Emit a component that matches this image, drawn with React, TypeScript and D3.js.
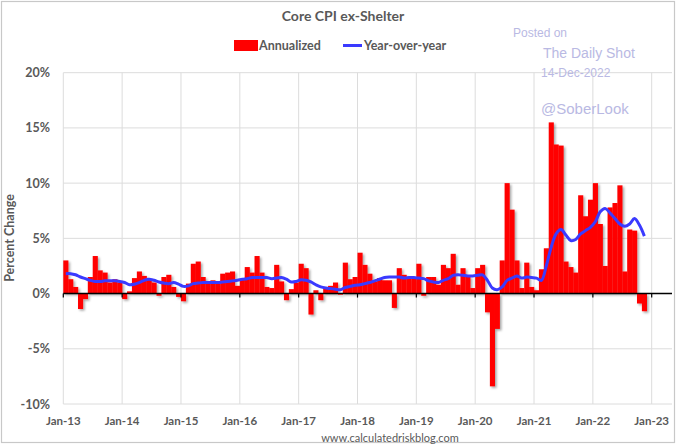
import React from "react";
import * as d3 from "d3";

// Monthly data, Jan-2013 .. Nov-2022
const startYear = 2013;
const yearTicks = ["Jan-13", "Jan-14", "Jan-15", "Jan-16", "Jan-17", "Jan-18", "Jan-19", "Jan-20", "Jan-21", "Jan-22", "Jan-23"];
const yTicks = [-10, -5, 0, 5, 10, 15, 20];

// Annualized monthly change (%)
const annualized = [
  3.0, 1.3, 0.6, -1.4, -0.5, 1.5, 3.4, 2.1, 1.9, 1.0, 1.3, 1.0,
  -0.5, 0.2, 1.4, 2.0, 1.6, 1.3, 1.0, -0.2, 1.5, 1.7, 0.6, -0.3,
  -0.7, 0.9, 2.7, 2.9, 1.5, 1.1, 1.2, 0.9, 1.8, 1.9, 2.0, 0.7,
  1.3, 2.4, 1.9, 3.4, 1.9, 0.6, 0.5, 2.6, 1.1, -0.6, 0.4, 1.0,
  2.7, 2.3, -1.9, 0.3, -0.6, 0.6, 0.7, 1.0, -0.1, 2.8, 1.3, 1.5,
  3.7, 2.6, 1.8, 1.1, 1.4, 1.2, 1.2, -1.3, 2.3, 1.7, 1.4, 1.4,
  2.7, -0.2, 1.5, 1.5, 0.8, 2.6, 2.3, 3.6, 0.8, 2.3, 1.6, 0.5,
  2.3, 2.6, -1.7, -8.4, -3.2, 3.0, 10.0, 7.6, 3.0, 0.5, 2.8, 0.6,
  0.3, 2.2, 4.1, 15.5, 13.5, 13.4, 2.9, 2.4, 1.9, 8.9, 7.0, 8.5,
  10.0, 6.3, 2.5, 7.8, 8.2, 9.8, 2.0, 5.8, 5.7, -0.9, -1.6,
];

// Year-over-year change (%)
const yearOverYear = [
  1.8, 1.8, 1.7, 1.5, 1.35, 1.2, 1.1, 1.1, 1.15, 1.15, 1.15, 1.1,
  1.0, 0.8, 0.85, 1.0, 1.2, 1.3, 1.2, 1.05, 0.95, 0.9, 1.0, 0.85,
  0.65, 0.7, 0.9, 0.95, 1.0, 1.0, 1.0, 1.0, 1.05, 1.1, 1.15, 1.2,
  1.3, 1.35, 1.45, 1.45, 1.45, 1.45, 1.35, 1.4, 1.45, 1.3, 1.05, 1.1,
  1.25, 1.2, 1.05, 0.8, 0.6, 0.5, 0.45, 0.4, 0.35, 0.55, 0.65, 0.75,
  0.8, 0.9, 1.0, 1.15, 1.3, 1.45, 1.5, 1.5, 1.5, 1.4, 1.45, 1.45,
  1.4, 1.35, 1.15, 1.05, 1.0, 1.2, 1.35, 1.65, 1.7, 1.65, 1.6, 1.6,
  1.65, 1.7, 1.2, 0.5, 0.35, 0.6, 1.2, 1.4, 1.6, 1.4, 1.5, 1.45,
  1.4, 1.2, 2.5, 4.2, 5.4, 5.8, 5.3, 4.8, 4.9, 5.4, 5.7, 6.0,
  6.5, 7.4, 7.7, 7.3, 6.8, 6.3, 6.1, 6.3, 6.8, 6.2, 5.2,
];

const W = 676;
const H = 446;
const FONT = "Lato, 'Open Sans', sans-serif";
const GREY = "#595959";

export default function App() {
  const x = d3.scaleLinear().domain([0, 120]).range([63.3, 651.7]);
  const y = d3.scaleLinear().domain([-10, 20]).range([404, 72.7]);
  const plotRight = 672;

  const line = d3
    .line<number>()
    .x((_, i) => x(i + 0.5))
    .y((d) => y(d))
    .curve(d3.curveCatmullRom.alpha(0.5));

  return (
    <svg
      width={W}
      height={H}
      style={{ position: "absolute", left: 0, top: 0, background: "#fff" }}
      fontFamily={FONT}
    >
      <defs>
        <filter id="shadow" x="-10%" y="-10%" width="130%" height="130%">
          <feDropShadow dx="1.6" dy="1.6" stdDeviation="1" floodColor="#000" floodOpacity="0.35" />
        </filter>
      </defs>
      <rect x={0} y={0} width={W} height={H} fill="#fff" />
      <rect x={1.5} y={1.5} width={W - 3} height={H - 5} fill="none" stroke="#c8c8c8" strokeWidth={1.2} />

      {/* title */}
      <text x={343} y={21} textAnchor="middle" fontSize={14} fontWeight={700} fill={GREY}>
        Core CPI ex-Shelter
      </text>

      {/* legend */}
      <rect x={234} y={40} width={24} height={11} fill="#ff0000" />
      <text x={259} y={50} fontSize={12.5} fontWeight={700} fill={GREY}>
        Annualized
      </text>
      <line x1={343} x2={362} y1={45.5} y2={45.5} stroke="#3a3aff" strokeWidth={3} />
      <text x={364} y={50} fontSize={12.5} fontWeight={700} fill={GREY}>
        Year-over-year
      </text>

      {/* gridlines */}
      {yTicks.map((t) => (
        <line key={"h" + t} x1={x(0)} x2={plotRight} y1={y(t)} y2={y(t)} stroke="#dcdcdc" strokeWidth={1} />
      ))}
      {yearTicks.map((lab, k) => (
        <line key={"v" + lab} x1={x(k * 12)} x2={x(k * 12)} y1={y(20)} y2={y(-10)} stroke="#dcdcdc" strokeWidth={1} />
      ))}

      {/* y tick labels */}
      {yTicks.map((t) => (
        <text key={"yl" + t} x={50} y={y(t) + 4.5} textAnchor="end" fontSize={12.5} fontWeight={700} fill={GREY}>
          {t + "%"}
        </text>
      ))}

      {/* x tick labels */}
      {yearTicks.map((lab, k) => (
        <text key={"xl" + lab} x={x(k * 12)} y={425} textAnchor="middle" fontSize={11.5} fontWeight={700} fill={GREY}>
          {lab}
        </text>
      ))}

      {/* y axis title */}
      <text
        transform={`translate(14,${238}) rotate(-90)`}
        textAnchor="middle"
        fontSize={12.5}
        fontWeight={700}
        fill={GREY}
      >
        Percent Change
      </text>

      {/* bars */}
      <g filter="url(#shadow)">
        {annualized.map((v, i) => (
          <rect
            key={"b" + i}
            x={x(i)}
            width={x(i + 1) - x(i) + 0.2}
            y={Math.min(y(v), y(0))}
            height={Math.abs(y(v) - y(0))}
            fill="#ff0000"
          />
        ))}
      </g>

      {/* zero axis */}
      <line x1={x(0)} x2={plotRight} y1={y(0)} y2={y(0)} stroke="#000" strokeWidth={1.6} />
      {yearTicks.map((lab, k) => (
        <line key={"t" + lab} x1={x(k * 12)} x2={x(k * 12)} y1={y(0)} y2={y(0) + 4} stroke="#000" strokeWidth={1.2} />
      ))}

      {/* YoY line */}
      <path d={line(yearOverYear) || ""} fill="none" stroke="#3a3aff" strokeWidth={3} strokeLinejoin="round" />

      {/* watermark */}
      <g fontFamily="'Liberation Sans', Arial, sans-serif" fill="#b9b9e3">
        <text x={513} y={37} fontSize={12}>Posted on</text>
        <text x={543} y={58} fontSize={14}>The Daily Shot</text>
        <text x={541} y={77} fontSize={12}>14-Dec-2022</text>
        <text x={541} y={114} fontSize={15}>@SoberLook</text>
      </g>

      {/* source */}
      <text x={390} y={442} textAnchor="middle" fontSize={11} fill={GREY}>
        www.calculatedriskblog.com
      </text>
    </svg>
  );
}
